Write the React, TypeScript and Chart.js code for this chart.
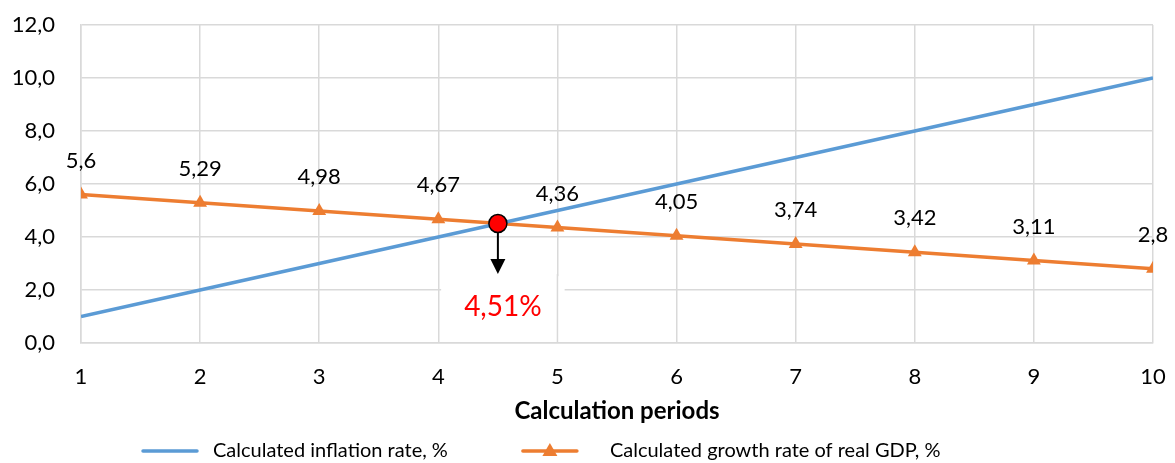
import React, { useEffect, useRef } from "react";
import { Chart, registerables } from "chart.js";

Chart.register(...registerables);

const periods = [1, 2, 3, 4, 5, 6, 7, 8, 9, 10];
const inflation = [1, 2, 3, 4, 5, 6, 7, 8, 9, 10];
const gdpGrowth = [5.6, 5.29, 4.98, 4.67, 4.36, 4.05, 3.74, 3.42, 3.11, 2.8];
const seriesNames = ["Calculated inflation rate, %", "Calculated growth rate of real GDP, %"];
const seriesColors = ["#5B9BD5", "#ED7D31"];
const xTitle = "Calculation periods";
const yRange = [0, 12];
const yStep = 2;
const intersection = { x: 4.5, y: 4.51 };
const arrowTipY = 2.6;
const markerLabel = "4,51%";
const markerLabelY = 1.35;

const FONT = "Lato, 'Open Sans', sans-serif";
const GRID = "#d9d9d9";

const fmt = (v: number) => String(v).replace(".", ",");

const overlay = {
  id: "overlay",
  beforeDatasetsDraw(chart: any) {
    const ctx = chart.ctx;
    const xs = chart.scales.x;
    const ys = chart.scales.y;
    const cx = xs.getPixelForValue(intersection.x);
    const tipY = ys.getPixelForValue(arrowTipY);
    const bottom = ys.getPixelForValue(0);
    ctx.save();
    ctx.font = `28px ${FONT}`;
    const w = ctx.measureText(markerLabel).width;
    const bx = cx + 5 - w / 2 - 23;
    const bw = w + 46;
    ctx.fillStyle = "#ffffff";
    ctx.fillRect(bx, tipY + 2, bw, bottom - tipY - 3);
    const g5 = xs.getPixelForValue(5);
    if (g5 > bx && g5 < bx + bw) {
      ctx.strokeStyle = GRID;
      ctx.lineWidth = 1.5;
      ctx.beginPath();
      ctx.moveTo(g5, tipY);
      ctx.lineTo(g5, bottom);
      ctx.stroke();
    }
    ctx.restore();
  },
  afterDatasetsDraw(chart: any) {
    const ctx = chart.ctx;
    const xs = chart.scales.x;
    const ys = chart.scales.y;
    ctx.save();
    // data labels
    const meta = chart.getDatasetMeta(1);
    ctx.font = `22px ${FONT}`;
    ctx.fillStyle = "#000";
    ctx.textAlign = "center";
    ctx.textBaseline = "middle";
    meta.data.forEach((pt: any, i: number) => {
      ctx.fillText(fmt(gdpGrowth[i]), pt.x, pt.y - 34);
    });
    // marker
    const cx = xs.getPixelForValue(intersection.x);
    const cy = ys.getPixelForValue(intersection.y);
    const tipY = ys.getPixelForValue(arrowTipY);
    const ly = ys.getPixelForValue(markerLabelY);
    ctx.strokeStyle = "#000";
    ctx.lineWidth = 2;
    ctx.beginPath();
    ctx.moveTo(cx, cy);
    ctx.lineTo(cx, tipY - 12);
    ctx.stroke();
    ctx.fillStyle = "#000";
    ctx.beginPath();
    ctx.moveTo(cx - 7.5, tipY - 15);
    ctx.lineTo(cx + 7.5, tipY - 15);
    ctx.lineTo(cx, tipY);
    ctx.closePath();
    ctx.fill();
    ctx.beginPath();
    ctx.arc(cx, cy, 9, 0, Math.PI * 2);
    ctx.fillStyle = "#FF0000";
    ctx.fill();
    ctx.lineWidth = 1.5;
    ctx.strokeStyle = "#000";
    ctx.stroke();
    ctx.font = `28px ${FONT}`;
    ctx.fillStyle = "#FF0000";
    ctx.textAlign = "center";
    ctx.textBaseline = "middle";
    ctx.fillText(markerLabel, cx + 5, ly);
    ctx.restore();
  },
  afterDraw(chart: any) {
    const ctx = chart.ctx;
    ctx.save();
    ctx.font = `20px ${FONT}`;
    ctx.textBaseline = "middle";
    ctx.textAlign = "left";
    const lineW = 54;
    const gaps = [16, 33];
    const itemGap = 75;
    const widths = seriesNames.map((n) => ctx.measureText(n).width);
    let x = 143;
    const y = 451;
    seriesNames.forEach((name, i) => {
      ctx.strokeStyle = seriesColors[i];
      ctx.lineWidth = 3.5;
      ctx.lineCap = "round";
      ctx.beginPath();
      ctx.moveTo(x, y);
      ctx.lineTo(x + lineW, y);
      ctx.stroke();
      if (i === 1) {
        const mx = x + lineW / 2;
        ctx.fillStyle = seriesColors[i];
        ctx.beginPath();
        ctx.moveTo(mx, y - 8);
        ctx.lineTo(mx + 7.5, y + 5);
        ctx.lineTo(mx - 7.5, y + 5);
        ctx.closePath();
        ctx.fill();
      }
      ctx.fillStyle = "#000";
      ctx.fillText(name, x + lineW + gaps[i], y);
      x += lineW + gaps[i] + widths[i] + itemGap;
    });
    ctx.restore();
  },
};

export default function App() {
  const ref = useRef<HTMLCanvasElement | null>(null);
  useEffect(() => {
    if (!ref.current) return;
    const chart = new Chart(ref.current, {
      type: "line",
      data: {
        datasets: [
          {
            label: seriesNames[0],
            data: periods.map((p, i) => ({ x: p, y: inflation[i] })),
            borderColor: seriesColors[0],
            backgroundColor: seriesColors[0],
            borderWidth: 3.5,
            pointRadius: 0,
            pointHoverRadius: 0,
          },
          {
            label: seriesNames[1],
            data: periods.map((p, i) => ({ x: p, y: gdpGrowth[i] })),
            borderColor: seriesColors[1],
            backgroundColor: seriesColors[1],
            borderWidth: 3.5,
            pointStyle: "triangle",
            pointRadius: 8,
            pointBorderWidth: 0,
            pointBackgroundColor: seriesColors[1],
            pointBorderColor: seriesColors[1],
          },
        ],
      },
      options: {
        animation: false,
        responsive: true,
        maintainAspectRatio: false,
        events: [],
        layout: { padding: { top: 25, right: 22, left: 0, bottom: 0 } },
        plugins: {
          legend: { display: false },
          tooltip: { enabled: false },
        },
        scales: {
          x: {
            type: "linear",
            min: periods[0],
            max: periods[periods.length - 1],
            ticks: {
              stepSize: 1,
              padding: 21,
              color: "#000",
              font: { family: FONT, size: 22 },
            },
            grid: { color: GRID, lineWidth: 1.5, drawTicks: false },
            border: { color: GRID, width: 1.5 },
            title: {
              display: true,
              text: xTitle,
              color: "#000",
              font: { family: FONT, size: 24, weight: "bold" },
              padding: { top: 0, bottom: 37 },
            },
            afterFit: (s: any) => {
              s.height = 120;
              s.paddingLeft = 0;
              s.paddingRight = 0;
            },
          },
          y: {
            min: yRange[0],
            max: yRange[1],
            ticks: {
              stepSize: yStep,
              padding: 26,
              color: "#000",
              font: { family: FONT, size: 22 },
              callback: (v: any) => Number(v).toFixed(1).replace(".", ","),
            },
            grid: { color: GRID, lineWidth: 1.5, drawTicks: false },
            border: { color: GRID, width: 1.5 },
            afterFit: (s: any) => {
              s.width = 81;
              s.paddingTop = 0;
              s.paddingBottom = 0;
            },
          },
        },
      },
      plugins: [overlay],
    });
    return () => chart.destroy();
  }, []);
  return (
    <div style={{ position: "absolute", left: 0, top: 0, width: 1175, height: 463, background: "#fff" }}>
      <canvas ref={ref} />
    </div>
  );
}
